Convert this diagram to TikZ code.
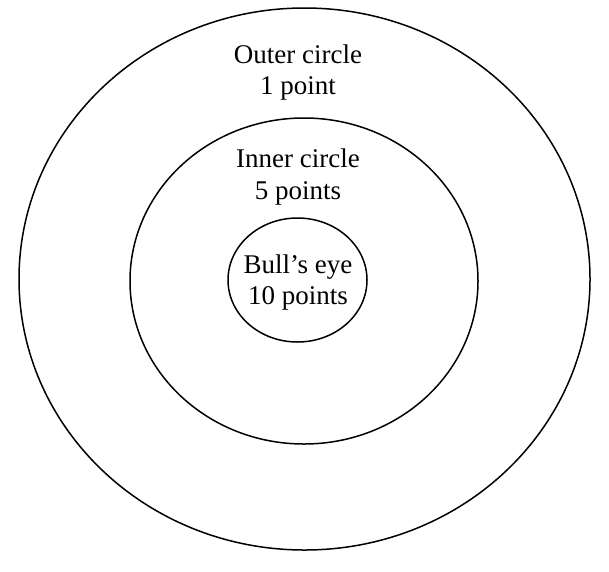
\documentclass[tikz,border=0pt]{standalone}
\usepackage{fontspec}
\setmainfont{Liberation Serif}
\usetikzlibrary{shapes.geometric}
\begin{document}
\begin{tikzpicture}[x=1pt,y=-1pt,
  ring/.style={draw=black,line width=1.5pt,ellipse,inner sep=0pt},
  lbl/.style={align=center,font=\fontsize{27}{31}\selectfont,inner sep=0pt}]
\useasboundingbox (0,0) rectangle (609,571);
\node[ring,minimum width=571pt,minimum height=542pt] (outer) at (304.5,279) {};
\node[ring,minimum width=348pt,minimum height=326pt] (inner) at (304,281) {};
\node[ring,minimum width=139pt,minimum height=124pt] (bull) at (297.5,280) {};
\node[lbl] (tout) at (298,73) {Outer circle\\1 point};
\node[lbl] (tin) at (298,177) {Inner circle\\5 points};
\node[lbl] (tbull) at (298,282) {Bull’s eye\\10 points};
\end{tikzpicture}
\end{document}
